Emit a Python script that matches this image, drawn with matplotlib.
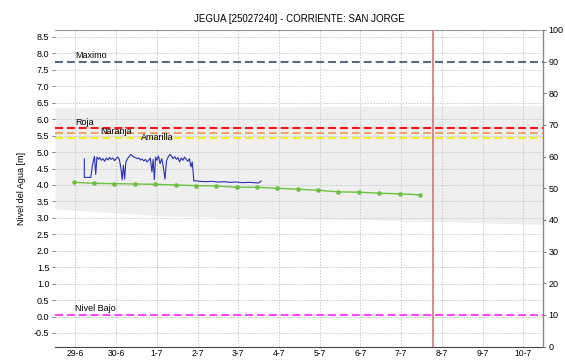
import numpy as np
import matplotlib
matplotlib.use('Agg')
import matplotlib.pyplot as plt

plt.rcParams['font.family'] = ['Liberation Sans', 'DejaVu Sans']

# días desde 29-6 (0 = 29-6)
tick_labels = ['29-6', '30-6', '1-7', '2-7', '3-7', '4-7', '5-7', '6-7', '7-7', '8-7', '9-7', '10-7']

# niveles de alerta [m]
niveles = {'Maximo': 7.75, 'Roja': 5.73, 'Naranja': 5.59, 'Amarilla': 5.44, 'Nivel Bajo': 0.05}
colores = {'Maximo': '#5b6a82', 'Roja': '#ff1010', 'Naranja': '#f2a868',
           'Amarilla': '#f4f020', 'Nivel Bajo': '#ff44ff'}

# banda histórica (gris)
banda_t = [-0.5, 2.3, 5.0, 8.0, 11.5]
banda_sup = [6.36, 6.37, 6.38, 6.40, 6.42]
banda_inf = [3.27, 3.05, 3.00, 2.92, 2.80]

# lecturas cada 12 h (verde)
verde_t = [-0.04 + 0.5 * i for i in range(18)]
verde_v = [4.08, 4.05, 4.04, 4.03, 4.02, 4.00, 3.98, 3.97, 3.93, 3.93,
           3.90, 3.87, 3.84, 3.79, 3.78, 3.75, 3.73, 3.70]

# nivel telemétrico (azul)
azul_t = [0.22, 0.22, 0.38, 0.42, 0.47, 0.50, 0.53, 0.57, 0.60, 0.64,
          0.68, 0.72, 0.76, 0.80, 0.84, 0.88, 0.92, 0.96, 1.00, 1.04,
          1.08, 1.12, 1.15, 1.18, 1.21, 1.24, 1.28, 1.32, 1.36, 1.40,
          1.44, 1.48, 1.52, 1.56, 1.60, 1.64, 1.68, 1.72, 1.76, 1.80,
          1.84, 1.88, 1.91, 1.94, 1.97, 2.00, 2.04, 2.08, 2.12, 2.16,
          2.20, 2.24, 2.28, 2.32, 2.36, 2.40, 2.44, 2.48, 2.52, 2.56,
          2.60, 2.64, 2.68, 2.72, 2.76, 2.80, 2.84, 2.87, 2.91, 2.96,
          3.05, 3.20, 3.35, 3.50, 3.65, 3.80, 3.95, 4.10, 4.25, 4.40,
          4.50, 4.56]
azul_v = [4.79, 4.23, 4.23, 4.60, 4.87, 4.32, 4.85, 4.78, 4.83, 4.75,
          4.80, 4.72, 4.82, 4.76, 4.84, 4.78, 4.82, 4.74, 4.80, 4.85,
          4.78, 4.50, 4.16, 4.60, 4.18, 4.70, 4.80, 4.86, 4.93, 4.88,
          4.85, 4.83, 4.80, 4.82, 4.76, 4.79, 4.73, 4.78, 4.70, 4.75,
          4.82, 4.40, 4.78, 4.16, 4.85, 4.75, 4.88, 4.65, 4.80, 4.55,
          4.18, 4.75, 4.85, 4.93, 4.88, 4.80, 4.86, 4.78, 4.83, 4.70,
          4.82, 4.75, 4.85, 4.78, 4.72, 4.80, 4.55, 4.70, 4.12, 4.13,
          4.11, 4.10, 4.11, 4.09, 4.10, 4.08, 4.09, 4.07, 4.08, 4.07,
          4.06, 4.12]

hoy = 8.78

fig = plt.figure(figsize=(5.65, 3.61), dpi=100)
ax = fig.add_axes([0.0973, 0.040, 0.8637, 0.877])
ax2 = ax.twinx()

ax.fill_between(banda_t, banda_inf, banda_sup, color='#efefef', lw=0, zorder=0)

for nombre, y in niveles.items():
    ax.axhline(y, color=colores[nombre], lw=1.5, dashes=(3.8, 1.9), zorder=3)

ax.axvline(hoy, color='#d88080', lw=1.3, zorder=4)

ax.plot(verde_t, verde_v, color='#6cc040', lw=1, marker='o', ms=2.3, zorder=5)
ax.plot(azul_t, azul_v, color='#2830b8', lw=0.8, zorder=5)

fs = 6.5
ax.text(0.0, niveles['Maximo'] + 0.05, 'Maximo', fontsize=fs, va='bottom')
ax.text(0.0, niveles['Roja'] + 0.02, 'Roja', fontsize=fs, va='bottom')
ax.text(0.6, niveles['Naranja'] - 0.1, 'Naranja', fontsize=fs, va='bottom')
ax.text(1.6, niveles['Amarilla'] - 0.12, 'Amarilla', fontsize=fs, va='bottom')
ax.text(0.0, niveles['Nivel Bajo'] + 0.05, 'Nivel Bajo', fontsize=fs, va='bottom')

ax.set_xlim(-0.5, 11.48)
ax.set_ylim(-0.9125, 8.7125)
ax2.set_ylim(0, 100)

ax.set_xticks(range(len(tick_labels)))
ax.set_xticklabels(tick_labels, fontsize=6.2)
ax.set_yticks(np.arange(-0.5, 8.51, 0.5))
ax.set_yticklabels(['%.1f' % v for v in np.arange(-0.5, 8.51, 0.5)], fontsize=fs)
ax2.set_yticks(range(0, 101, 10))
ax2.set_yticklabels([str(v) for v in range(0, 101, 10)], fontsize=fs)

ax.grid(True, color='#c8c8c8', ls=(0, (1.5, 1.5)), lw=0.7)
for a in (ax, ax2):
    a.tick_params(length=2, width=0.6, color='#666666', pad=2)
ax.tick_params(axis='x', length=0, pad=1.5)

ax.spines['left'].set_visible(False)
ax.spines['bottom'].set_color('#444444')
ax.spines['bottom'].set_linestyle((0, (1, 1)))
ax.spines['top'].set_color('#999999')
ax2.spines['right'].set_color('#888888')
for s in ('left', 'bottom', 'top'):
    ax2.spines[s].set_visible(False)

ax.set_ylabel('Nivel del Agua [m]', fontsize=fs, labelpad=6)
ax.set_title('JEGUA [25027240] - CORRIENTE: SAN JORGE', fontsize=7, pad=6)

plt.savefig('out.png', dpi=100)
